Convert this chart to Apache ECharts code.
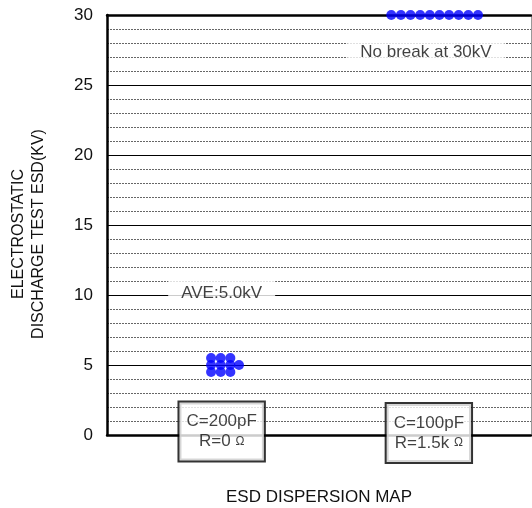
<!DOCTYPE html>
<html><head><meta charset="utf-8">
<script src="https://cdn.jsdelivr.net/npm/echarts@6/dist/echarts.min.js"></script>
<style>html,body{margin:0;padding:0;background:#fff}#c{width:532px;height:508px}</style>
</head><body><div id="c"></div>
<script>
const yTicks = [0, 5, 10, 15, 20, 25, 30];
const groupA = [[10.8,5.5],[10.8,5.0],[10.8,4.5],[11.8,5.5],[11.8,5.0],[11.8,4.5],[12.8,5.5],[12.8,5.0],[12.8,4.5],[13.7,5.0]];
const groupB = [[29.5,30],[30.5,30],[31.5,30],[32.5,30],[33.5,30],[34.5,30],[35.5,30],[36.5,30],[37.5,30],[38.5,30]];
const noteTexts = ['AVE:5.0kV', 'No break at 30kV'];
const notePos = [[11.9,10.1],[33.1,27.3]];
const boxTexts = [['C=200pF','R=0 ','Ω'],['C=100pF','R=1.5k ','Ω']];
const boxPos = [[11.9,0.25],[33.4,0.14]];
const axisNames = {x:'ESD DISPERSION MAP', y:'ELECTROSTATIC\nDISCHARGE TEST ESD(KV)'};

const font = 'Liberation Sans, Arial, sans-serif';
const chart = echarts.init(document.getElementById('c'));
chart.setOption({
  animation:false,
  grid:{left:107,right:1,top:15,bottom:73,outerBoundsMode:'none',containLabel:false},
  xAxis:[{type:'value',min:0,max:44,position:'bottom',
    axisLine:{show:true,onZero:false,lineStyle:{color:'#000',width:2.5}},axisTick:{show:false},axisLabel:{show:false},splitLine:{show:false},
    name:axisNames.x,nameLocation:'middle',nameGap:54,nameTextStyle:{fontSize:17,color:'#111',fontFamily:font}},
   {type:'value',min:0,max:44,position:'top',
    axisLine:{show:true,onZero:false,lineStyle:{color:'#000',width:2.5}},axisTick:{show:false},axisLabel:{show:false},splitLine:{show:false}}],
  yAxis:[{type:'value',min:yTicks[0],max:yTicks[yTicks.length-1],interval:5,
    axisLine:{show:true,onZero:false,lineStyle:{color:'#000',width:2.5}},axisTick:{show:false},
    axisLabel:{fontSize:17,color:'#111',margin:14,fontFamily:font},
    splitLine:{show:true,lineStyle:{color:'#000',width:1}},
    minorTick:{show:false,splitNumber:5},
    minorSplitLine:{show:true,lineStyle:{color:'#666',width:1,type:[2,1]}},
    name:axisNames.y,nameLocation:'middle',nameGap:58,nameRotate:90,
    nameTextStyle:{fontSize:16,color:'#111',lineHeight:20,fontFamily:font,padding:[0,18,0,0]}},
   {type:'value',min:0,max:30,position:'right',
    axisLine:{show:true,onZero:false,lineStyle:{color:'#999',width:1}},axisTick:{show:false},axisLabel:{show:false},splitLine:{show:false}}],
  series:[
    {type:'scatter',data:groupA,symbolSize:10,itemStyle:{color:'#0000ff'},clip:false,z:5},
    {type:'scatter',data:groupB,symbolSize:10,itemStyle:{color:'#0000ff'},clip:false,z:5},
    {type:'scatter',symbolSize:0,clip:false,z:6,
      data:notePos.map((p,i)=>({value:p,label:{formatter:noteTexts[i]}})),
      label:{show:true,position:'inside',fontSize:17,color:'#111',fontFamily:font,backgroundColor:'#fff',padding:[4,13]}},
    {type:'scatter',symbolSize:0,clip:false,z:7,
      data:boxPos.map((p,i)=>({value:p,label:{formatter:'{a|'+boxTexts[i][0]+'}\n{a|'+boxTexts[i][1]+'}{o|'+boxTexts[i][2]+'}'}})),
      label:{show:true,position:'inside',color:'#111',fontFamily:font,backgroundColor:'#fff',
        borderColor:'#000',borderWidth:2,padding:[9,7],align:'center',
        rich:{a:{fontSize:17,lineHeight:20,color:'#111',fontFamily:font},o:{fontSize:12,lineHeight:20,color:'#111',fontFamily:font}}}}
  ]
});
</script></body></html>
